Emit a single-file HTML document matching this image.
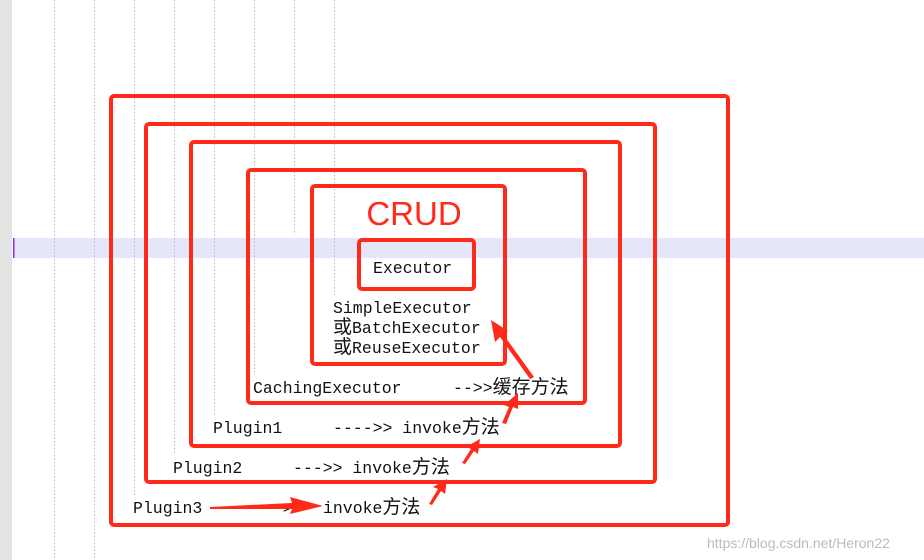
<!DOCTYPE html>
<html><head><meta charset="utf-8"><style>
body{margin:0;width:924px;height:560px;overflow:hidden;background:#fff}
svg{display:block}
.m{font-family:"Liberation Mono","Noto Sans CJK SC",monospace;font-size:16.5px;fill:#111}
.c{font-family:"Noto Sans CJK SC",sans-serif;font-size:19px}
</style></head><body>
<svg width="924" height="560" xmlns="http://www.w3.org/2000/svg">
<rect x="0" y="0" width="12" height="560" fill="#e4e4e4"/>
<rect x="13" y="238" width="911" height="20" fill="#e6e6fa"/>
<rect x="13" y="238" width="1.5" height="20" fill="#8a2be2"/>
<g stroke="#bbb" stroke-width="1" stroke-dasharray="1.5,2">
<line x1="54.5" y1="0" x2="54.5" y2="560"/>
<line x1="94.5" y1="0" x2="94.5" y2="560"/>
<line x1="134.5" y1="0" x2="134.5" y2="495"/>
<line x1="174.5" y1="0" x2="174.5" y2="455"/>
<line x1="214.5" y1="0" x2="214.5" y2="415"/>
<line x1="254.5" y1="0" x2="254.5" y2="375"/>
<line x1="294.5" y1="0" x2="294.5" y2="235"/>
<line x1="334.5" y1="0" x2="334.5" y2="295"/>
</g>
<g fill="none" stroke="#ff2a1a" stroke-width="4">
<rect x="111" y="96" width="617" height="429" rx="3"/>
<rect x="146" y="124" width="509" height="358" rx="3"/>
<rect x="191" y="142" width="429" height="304" rx="3"/>
<rect x="248" y="170" width="337" height="233" rx="3"/>
<rect x="312" y="186" width="193" height="178" rx="3"/>
<rect x="359" y="240" width="115" height="49" rx="3"/>
</g>
<text x="414" y="225" text-anchor="middle" font-family="Liberation Sans,sans-serif" font-size="33" fill="#ff2a1a">CRUD</text>
<text class="m" x="373" y="273">Executor</text>
<text class="m" x="333" y="313">SimpleExecutor</text>
<text class="m" x="333" y="333"><tspan class="c">或</tspan>BatchExecutor</text>
<text class="m" x="333" y="353"><tspan class="c">或</tspan>ReuseExecutor</text>
<text class="m" x="253" y="393">CachingExecutor</text>
<text class="m" x="453" y="393">-->><tspan class="c">缓存方法</tspan></text>
<text class="m" x="213" y="433">Plugin1</text>
<text class="m" x="333" y="433">---->> invoke<tspan class="c">方法</tspan></text>
<text class="m" x="173" y="473">Plugin2</text>
<text class="m" x="293" y="473">--->>  invoke<tspan class="c">方法</tspan></text>
<text class="m" x="133" y="513">Plugin3</text>
<text class="m" x="253" y="513">--->></text>
<text class="m" x="323" y="513">invoke<tspan class="c">方法</tspan></text>
<g fill="#ff2a1a">
<polygon points="210,507 292,503 290,497 323,506 290,514 292,509 210,509"/>
<polygon points="429,504 438,489 433,487 447,479 445,494 441,491 432,505"/>
<polygon points="462,463 471,449 466,447 480,439 478,454 474,451 465,464"/>
<polygon points="502,423 509,407 504,405 518,393 518,409 513,407 506,424"/>
<polygon points="530,379 500,337 495,342 491,320 508,331 503,334 534,377"/>
</g>
<text x="707" y="548" font-family="Liberation Sans,sans-serif" font-size="14" fill="#bbb">https://blog.csdn.net/Heron22</text>
</svg>
</body></html>
